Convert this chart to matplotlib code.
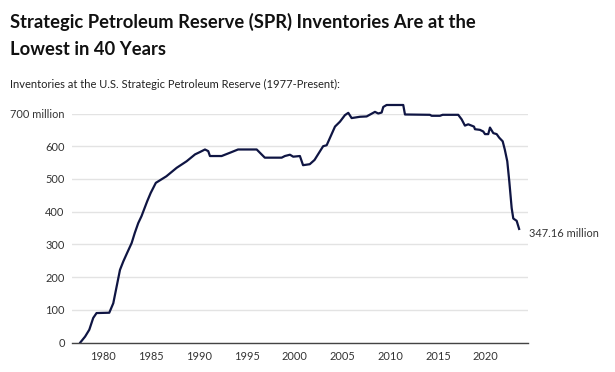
import matplotlib
matplotlib.use("Agg")
import matplotlib.pyplot as plt

years = [1977.6, 1978.1, 1978.54, 1978.95, 1979.3, 1980.63, 1981.05, 1981.4, 1981.75,
         1982.1, 1982.5, 1982.97, 1983.3, 1983.66, 1984.0, 1984.26, 1984.6, 1984.96,
         1985.5, 1986.6, 1987.68, 1988.72, 1989.6, 1990.1, 1990.64, 1990.98, 1991.16,
         1992.38, 1993.25, 1994.1, 1996.05, 1996.9, 1998.66, 1999.0, 1999.53, 1999.87,
         2000.57, 2000.9, 2001.6, 2002.1, 2003.0, 2003.37, 2004.24, 2004.76, 2005.28,
         2005.63, 2005.98, 2006.85, 2007.55, 2008.42, 2008.77, 2009.12, 2009.29, 2009.64,
         2011.38, 2011.56, 2014.17, 2014.35, 2015.22, 2015.5, 2017.13, 2017.49, 2017.83,
         2018.18, 2018.78, 2018.88, 2019.4, 2019.75, 2019.93, 2020.27, 2020.45, 2020.8,
         2021.15, 2021.42, 2021.78, 2022.0, 2022.26, 2022.47, 2022.72, 2022.89, 2023.24,
         2023.5]
inventory = [0, 18, 39, 75, 90, 91, 120, 171, 222, 248, 274, 304, 335, 365, 386, 406,
             432, 457, 488, 508, 534, 554, 575, 582, 590, 585, 570, 570, 580, 590, 590,
             565, 565, 570, 574, 568, 570, 542, 545, 558, 600, 603, 660, 675, 695, 702,
             686, 690, 691, 705, 700, 703, 720, 726, 726, 697, 696, 693, 693, 696, 696,
             682, 663, 667, 660, 652, 650, 645, 637, 637, 657, 640, 637, 626, 615, 590,
             554, 493, 411, 379, 372, 347.16]
y_ticks = [0, 100, 200, 300, 400, 500, 600, 700]
y_tick_labels = ["0", "100", "200", "300", "400", "500", "600", "700 million"]
x_ticks = [1980, 1985, 1990, 1995, 2000, 2005, 2010, 2015, 2020]
title_lines = ["Strategic Petroleum Reserve (SPR) Inventories Are at the",
               "Lowest in 40 Years"]
subtitle = "Inventories at the U.S. Strategic Petroleum Reserve (1977-Present):"
end_label = "347.16 million"

W, H = 615, 372
fig = plt.figure(figsize=(W / 100, H / 100), dpi=100)
fig.patch.set_facecolor("white")

def fx(px):
    return px / W

def fy(py):
    return 1 - py / H

ax = fig.add_axes([fx(71.7), fy(342.5), fx(528.3) - fx(71.7), fy(113.5) - fy(342.5)])
ax.plot(years, inventory, color="#0f1543", lw=1.6, clip_on=False,
        solid_joinstyle="round")
ax.set_xlim(1976.7, 2024.46)
ax.set_ylim(0, 700)
ax.set_yticks(y_ticks)
ax.set_yticklabels(y_tick_labels)
ax.set_xticks(x_ticks)
ax.grid(axis="y", color="#e3e3e3", lw=1)
ax.set_axisbelow(True)
for s in ["top", "right", "left"]:
    ax.spines[s].set_visible(False)
ax.spines["bottom"].set_color("#444444")
ax.spines["bottom"].set_linewidth(1)
ax.tick_params(axis="both", length=0, labelsize=7.9, labelcolor="#333333",
               labelfontfamily="Lato")
ax.tick_params(axis="y", pad=5)
ax.tick_params(axis="x", pad=6)

ax.annotate(end_label, xy=(years[-1], inventory[-1]), xytext=(7, -3),
            textcoords="offset points", ha="left", va="center",
            fontsize=7.9, color="#333333", family="Lato", annotation_clip=False)

fig.text(fx(10), fy(28), title_lines[0], fontsize=13.2, fontweight="bold",
         family="Lato", color="#111111", va="baseline", ha="left")
fig.text(fx(10), fy(55), title_lines[1], fontsize=13.2, fontweight="bold",
         family="Lato", color="#111111", va="baseline", ha="left")
fig.text(fx(10), fy(87.5), subtitle, fontsize=8.0, family="Lato",
         color="#222222", va="baseline", ha="left")

fig.savefig("out.png", dpi=100, facecolor="white")
